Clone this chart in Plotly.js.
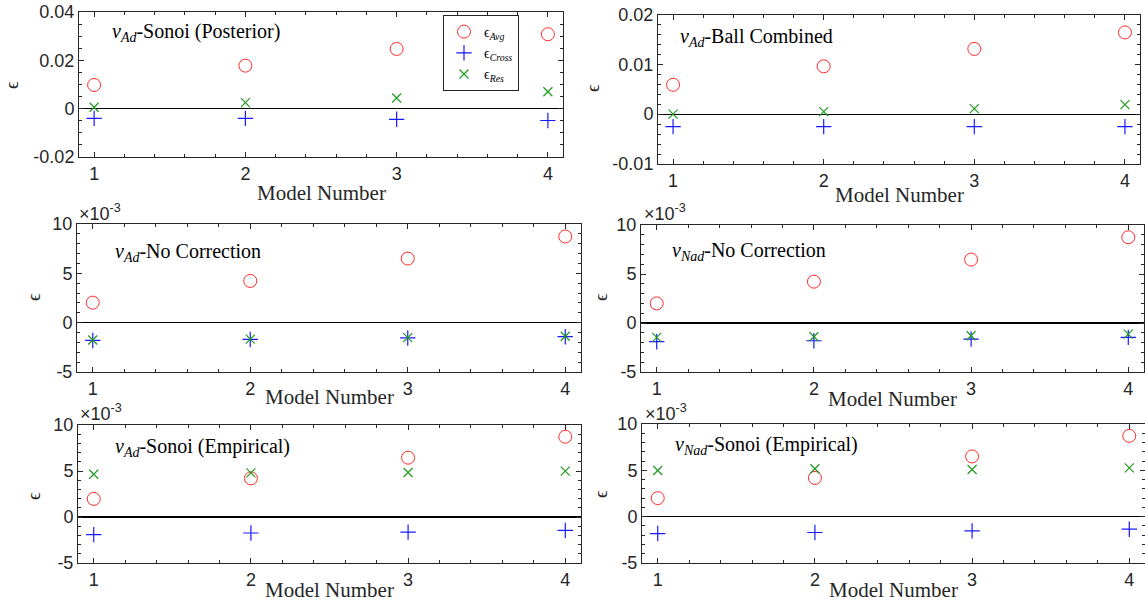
<!DOCTYPE html>
<html><head><meta charset="utf-8">
<script src="https://cdn.plot.ly/plotly-3.0.1.min.js"></script>
<style>html,body{margin:0;padding:0;background:#fff;} #chart{width:1145px;height:602px;}</style>
</head><body><div id="chart"></div>
<script>
// ---------- data ----------
const models = [1, 2, 3, 4];
const xTickText = ['1', '2', '3', '4'];

// Panel 1: nu_Ad - Sonoi (Posterior)
const p1Avg   = [0.0098, 0.0178, 0.0247, 0.0308];
const p1Cross = [-0.0040, -0.0040, -0.0044, -0.0049];
const p1Res   = [0.0006, 0.0025, 0.0044, 0.0070];
const p1YTicks = [-0.02, 0, 0.02, 0.04];
const p1YText  = ['-0.02', '0', '0.02', '0.04'];

// Panel 2: nu_Ad - Ball Combined
const p2Avg   = [0.0059, 0.0096, 0.0131, 0.0164];
const p2Cross = [-0.0025, -0.0025, -0.0025, -0.0025];
const p2Res   = [0.0000, 0.0005, 0.0011, 0.0019];
const p2YTicks = [-0.01, 0, 0.01, 0.02];
const p2YText  = ['-0.01', '0', '0.01', '0.02'];

// Panels 3-6 in units of 1e-3
const e3YTicks = [-5, 0, 5, 10];
const e3YText  = ['-5', '0', '5', '10'];

// Panel 3: nu_Ad - No Correction
const p3Avg   = [2.03, 4.23, 6.50, 8.73];
const p3Cross = [-1.80, -1.70, -1.55, -1.42];
const p3Res   = [-1.76, -1.66, -1.52, -1.38];

// Panel 4: nu_Nad - No Correction
const p4Avg   = [2.00, 4.22, 6.47, 8.75];
const p4Cross = [-1.91, -1.81, -1.64, -1.47];
const p4Res   = [-1.47, -1.40, -1.30, -1.13];

// Panel 5: nu_Ad - Sonoi (Empirical)
const p5Avg   = [1.97, 4.20, 6.45, 8.72];
const p5Cross = [-1.92, -1.74, -1.64, -1.45];
const p5Res   = [4.65, 4.80, 4.84, 4.98];

// Panel 6: nu_Nad - Sonoi (Empirical)
const p6Avg   = [2.00, 4.18, 6.50, 8.72];
const p6Cross = [-1.82, -1.71, -1.53, -1.35];
const p6Res   = [4.98, 5.17, 5.09, 5.27];

const seriesNames = ['ϵ<sub><i>Avg</i></sub>', 'ϵ<sub><i>Cross</i></sub>', 'ϵ<sub><i>Res</i></sub>'];
const panelTitles = [
  '<i>ν<sub>Ad</sub></i>-Sonoi (Posterior)',
  '<i>ν<sub>Ad</sub></i>-Ball Combined',
  '<i>ν<sub>Ad</sub></i>-No Correction',
  '<i>ν<sub>Nad</sub></i>-No Correction',
  '<i>ν<sub>Ad</sub></i>-Sonoi (Empirical)',
  '<i>ν<sub>Nad</sub></i>-Sonoi (Empirical)'
];

// ---------- layout ----------
const W = 1145, H = 602;
const AX = '#262626';
const RED = '#ff2a2a', BLUE = '#1a1aff', GREEN = '#1f9a1f';

// pixel boxes [x0, x1, y0, y1]
const panels = [
  {box:[79, 563, 12, 157],  range:[-0.02, 0.04], ticks:p1YTicks, text:p1YText, minor:0.005,
   data:[p1Avg, p1Cross, p1Res], title:[110, 33], eps:[12, 85], xlab:193, exp:false},
  {box:[658, 1140, 14.5, 164], range:[-0.01, 0.02], ticks:p2YTicks, text:p2YText, minor:0.002,
   data:[p2Avg, p2Cross, p2Res], title:[678, 38], eps:[592, 88], xlab:195, exp:false},
  {box:[77, 581, 224, 372], range:[-5, 10], ticks:e3YTicks, text:e3YText, minor:1,
   data:[p3Avg, p3Cross, p3Res], title:[113, 252], eps:[33, 297], xlab:397, exp:[77, 213]},
  {box:[641, 1144, 225, 372], range:[-5, 10], ticks:e3YTicks, text:e3YText, minor:1,
   data:[p4Avg, p4Cross, p4Res], title:[670, 251], eps:[600, 297], xlab:399, exp:[642, 213]},
  {box:[78, 581, 425, 563], range:[-5, 10], ticks:e3YTicks, text:e3YText, minor:1,
   data:[p5Avg, p5Cross, p5Res], title:[113, 447], eps:[33, 496], xlab:590, exp:[78, 412]},
  {box:[642, 1145, 424, 563], range:[-5, 10], ticks:e3YTicks, text:e3YText, minor:1,
   data:[p6Avg, p6Cross, p6Res], title:[673, 445], eps:[600, 494], xlab:590, exp:[643, 412]}
];

const tickFont = {family:'Liberation Sans, Arial, sans-serif', size:18, color:AX};
const serif = 'Liberation Serif, Times New Roman, serif';

const markerStyles = [
  {symbol:'circle-open', size:13, color:RED, line:{width:1, color:RED}},
  {symbol:'cross-thin-open', size:11, color:BLUE, line:{width:1.2, color:BLUE}},
  {symbol:'x-thin-open', size:9, color:GREEN, line:{width:1.2, color:GREEN}}
];

const traces = [];
const layout = {
  width:W, height:H, margin:{l:0, r:0, t:0, b:0},
  paper_bgcolor:'#fff', plot_bgcolor:'#fff',
  showlegend:true,
  legend:{x:443/W, y:1-15/H, xanchor:'left', yanchor:'top', bgcolor:'#fff',
          bordercolor:AX, borderwidth:1, font:{family:serif, size:14, color:'#000'},
          itemwidth:30, tracegroupgap:0},
  annotations:[]
};

panels.forEach((p, i) => {
  const n = i === 0 ? '' : String(i + 1);
  const [x0, x1, y0, y1] = p.box;
  layout['xaxis' + n] = {
    domain:[x0 / W, x1 / W], anchor:'y' + n, range:[0.9, 4.1],
    tickvals:models, ticktext:xTickText, ticks:'inside', ticklen:5, tickcolor:AX, tickwidth:1,
    showline:true, linecolor:AX, linewidth:1, mirror:'ticks', showgrid:false, zeroline:false,
    tickfont:tickFont, fixedrange:true,
    minor:{dtick:0.2, tick0:0, ticks:'inside', ticklen:3, tickcolor:AX, showgrid:false}
  };
  layout['yaxis' + n] = {
    domain:[1 - y1 / H, 1 - y0 / H], anchor:'x' + n, range:p.range,
    tickvals:p.ticks, ticktext:p.text, ticks:'inside', ticklen:5, tickcolor:AX, tickwidth:1,
    showline:true, linecolor:AX, linewidth:1, mirror:'ticks', showgrid:false,
    zeroline:true, zerolinecolor:'#000', zerolinewidth:1.2,
    tickfont:tickFont, fixedrange:true,
    minor:{dtick:p.minor, tick0:0, ticks:'inside', ticklen:3, tickcolor:AX, showgrid:false}
  };
  p.data.forEach((vals, k) => {
    traces.push({
      type:'scatter', mode:'markers', x:models, y:vals,
      xaxis:'x' + n, yaxis:'y' + n, name:seriesNames[k],
      showlegend:i === 0, marker:markerStyles[k], hoverinfo:'x+y'
    });
  });
  // panel title
  layout.annotations.push({xref:'paper', yref:'paper', x:p.title[0] / W, y:1 - p.title[1] / H,
    xanchor:'left', yanchor:'middle', showarrow:false, text:panelTitles[i],
    font:{family:serif, size:20, color:'#000'}});
  // x label
  layout.annotations.push({xref:'paper', yref:'paper', x:(x0 + x1) / 2 / W, y:1 - p.xlab / H,
    xanchor:'center', yanchor:'middle', showarrow:false, text:'Model Number',
    font:{family:serif, size:21, color:AX}});
  // y label
  layout.annotations.push({xref:'paper', yref:'paper', x:p.eps[0] / W, y:1 - p.eps[1] / H,
    xanchor:'center', yanchor:'middle', showarrow:false, text:'ϵ', textangle:-90,
    font:{family:serif, size:19, color:AX}});
  // exponent
  if (p.exp) {
    layout.annotations.push({xref:'paper', yref:'paper', x:p.exp[0] / W, y:1 - p.exp[1] / H,
      xanchor:'left', yanchor:'middle', showarrow:false, text:'×10<sup>-3</sup>',
      font:{family:'Liberation Sans, Arial, sans-serif', size:18, color:AX}});
  }
});

Plotly.newPlot('chart', traces, layout, {displayModeBar:false, staticPlot:true});
</script>
</body></html>
